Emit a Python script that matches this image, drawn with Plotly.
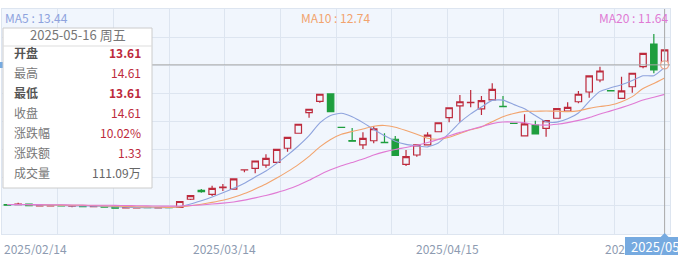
import plotly.graph_objects as go

# ---------------- data ----------------
dates = [
    "2025-02-14", "2025-02-17", "2025-02-18", "2025-02-19", "2025-02-20", "2025-02-21",
    "2025-02-24", "2025-02-25", "2025-02-26", "2025-02-27", "2025-02-28",
    "2025-03-03", "2025-03-04", "2025-03-05", "2025-03-06", "2025-03-07",
    "2025-03-10", "2025-03-11", "2025-03-12", "2025-03-13", "2025-03-14",
    "2025-03-17", "2025-03-18", "2025-03-19", "2025-03-20", "2025-03-21",
    "2025-03-24", "2025-03-25", "2025-03-26", "2025-03-27", "2025-03-28", "2025-03-31",
    "2025-04-01", "2025-04-02", "2025-04-03", "2025-04-07", "2025-04-08",
    "2025-04-09", "2025-04-10", "2025-04-11", "2025-04-14", "2025-04-15",
    "2025-04-16", "2025-04-17", "2025-04-18", "2025-04-21", "2025-04-22",
    "2025-04-23", "2025-04-24", "2025-04-25", "2025-04-28", "2025-04-29", "2025-04-30",
    "2025-05-06", "2025-05-07", "2025-05-08", "2025-05-09", "2025-05-12",
    "2025-05-13", "2025-05-14", "2025-05-15", "2025-05-16",
]
opens = [4.29, 4.29, 4.33, 4.21, 4.21, 4.22, 4.19, 4.16, 4.15, 4.14,
         4.15, 4.08, 4.08, 4.10, 4.08, 4.10, 4.11, 4.65, 5.24, 4.98,
         5.43, 5.33, 6.60, 6.71, 6.93, 7.11, 8.05, 9.05, 10.42, 11.18,
         11.67, 9.45, 8.56, 8.27, 8.55, 8.44, 8.65, 6.98, 7.60, 8.27,
         9.15, 10.09, 10.87, 11.09, 10.67, 11.27, 10.85, 9.71, 8.87, 9.60,
         9.38, 10.05, 10.53, 11.15, 11.80, 12.60, 11.89, 11.38, 12.15, 13.49,
         15.00, 13.61]
highs = [4.31, 4.42, 4.34, 4.23, 4.24, 4.23, 4.25, 4.17, 4.17, 4.15,
         4.16, 4.12, 4.11, 4.11, 4.10, 4.10, 4.50, 4.89, 5.33, 5.55,
         5.67, 6.01, 6.61, 7.21, 7.65, 7.99, 8.79, 9.66, 10.67, 11.66,
         11.68, 9.45, 9.40, 9.11, 9.53, 9.05, 8.87, 7.93, 8.28, 9.11,
         9.76, 10.76, 11.60, 11.93, 11.53, 12.38, 11.53, 9.72, 10.31, 9.89,
         9.90, 10.70, 11.11, 11.87, 12.88, 13.49, 11.89, 12.82, 13.06, 14.39,
         15.67, 14.61]
lows = [4.22, 4.27, 4.21, 4.20, 4.20, 4.20, 4.11, 4.14, 4.13, 4.12,
        4.04, 4.05, 4.06, 4.08, 4.07, 4.08, 4.11, 4.60, 5.09, 4.87,
        5.20, 5.31, 6.45, 6.38, 6.75, 7.09, 7.82, 9.03, 10.09, 11.09,
        10.48, 9.44, 8.50, 8.00, 8.38, 8.41, 7.58, 6.87, 7.49, 8.26,
        9.14, 9.78, 9.82, 10.78, 10.27, 11.26, 10.80, 9.69, 8.86, 8.99,
        8.82, 10.04, 10.52, 11.05, 11.42, 12.45, 11.87, 11.37, 11.75, 13.38,
        13.05, 13.61]
closes = [4.25, 4.32, 4.22, 4.22, 4.22, 4.21, 4.20, 4.15, 4.16, 4.13,
          4.05, 4.09, 4.09, 4.09, 4.09, 4.09, 4.50, 4.89, 5.16, 5.38,
          5.46, 6.01, 6.61, 7.20, 7.38, 7.98, 8.78, 9.65, 10.65, 11.65,
          10.49, 9.44, 8.52, 8.71, 9.35, 8.42, 7.58, 7.49, 8.27, 8.93,
          9.75, 10.75, 11.15, 11.11, 11.22, 11.98, 10.82, 9.70, 9.67, 9.00,
          9.89, 10.69, 10.78, 11.65, 12.87, 13.20, 11.88, 11.87, 13.05, 14.38,
          13.28, 14.61]
ma5 = [4.29, 4.29, 4.28, 4.26, 4.25, 4.24, 4.21, 4.20, 4.19, 4.17,
       4.14, 4.12, 4.10, 4.09, 4.08, 4.09, 4.17, 4.33, 4.55, 4.80,
       5.08, 5.38, 5.72, 6.13, 6.53, 7.04, 7.59, 8.20, 8.89, 9.74,
       10.24, 10.38, 10.15, 9.76, 9.30, 8.89, 8.52, 8.31, 8.22, 8.14,
       8.40, 9.04, 9.77, 10.34, 10.80, 11.24, 11.26, 10.97, 10.68, 10.23,
       9.82, 9.79, 10.01, 10.40, 11.18, 11.84, 12.08, 12.29, 12.57, 12.88,
       12.89, 13.44]
ma10 = [4.30, 4.30, 4.29, 4.28, 4.27, 4.26, 4.25, 4.24, 4.23, 4.21,
        4.19, 4.17, 4.15, 4.14, 4.13, 4.11, 4.14, 4.22, 4.32, 4.44,
        4.58, 4.78, 5.03, 5.34, 5.67, 6.06, 6.49, 6.96, 7.51, 8.14,
        8.64, 8.98, 9.17, 9.33, 9.52, 9.57, 9.45, 9.23, 8.99, 8.72,
        8.65, 8.78, 9.04, 9.28, 9.47, 9.82, 10.15, 10.37, 10.51, 10.52,
        10.53, 10.52, 10.49, 10.54, 10.71, 10.83, 10.93, 11.15, 11.49, 12.03,
        12.37, 12.74]
ma20 = [4.30, 4.30, 4.29, 4.29, 4.28, 4.28, 4.27, 4.26, 4.25, 4.25,
        4.24, 4.23, 4.22, 4.21, 4.20, 4.19, 4.20, 4.23, 4.27, 4.33,
        4.39, 4.47, 4.59, 4.74, 4.90, 5.09, 5.31, 5.59, 5.91, 6.29,
        6.61, 6.88, 7.10, 7.33, 7.60, 7.81, 7.97, 8.10, 8.25, 8.43,
        8.64, 8.88, 9.11, 9.30, 9.49, 9.69, 9.80, 9.80, 9.75, 9.62,
        9.59, 9.65, 9.76, 9.91, 10.09, 10.33, 10.54, 10.76, 11.00, 11.27,
        11.45, 11.64]
tick_labels = ["2025/02/14", "2025/03/14", "2025/04/15", "2025/05/16"]
last_volume_wan = 111.09
weekday_last = "周五"

# ---------------- style ----------------
W, H = 678, 255
PL, PR, PT, PB = 2, 670, 9, 234
BG = "#f1f6fd"
GRID = "#dde5f0"
RED = "#bd2a3c"
GREEN = "#1e9e3e"
PTR = "#76aae0"
C5, C10, C20 = "#8ea3dd", "#f2a46e", "#e07ad4"
FONT = "Noto Sans CJK SC, Noto Sans, sans-serif"

n = len(dates)
x = list(range(n))
y_min, y_max = 2.3333, 17.3333


def fx(p):
    return (p - PL) / (PR - PL)


def fy(p):
    return (PB - p) / (PB - PT)


fig = go.Figure()
fig.add_trace(go.Candlestick(
    x=x, open=opens, high=highs, low=lows, close=closes,
    increasing=dict(line=dict(color=RED, width=1.2), fillcolor=BG),
    decreasing=dict(line=dict(color=GREEN, width=1.2), fillcolor=GREEN),
    whiskerwidth=0, hoverinfo="skip", showlegend=False,
))
for vals, col in ((ma5, C5), (ma10, C10), (ma20, C20)):
    fig.add_trace(go.Scatter(x=x, y=vals, mode="lines",
                             line=dict(color=col, width=1.1, shape="spline", smoothing=0.6),
                             hoverinfo="skip", showlegend=False))

cross_y = opens[-1]
fig.add_trace(go.Scatter(x=[x[-1]], y=[cross_y], mode="markers",
                         marker=dict(size=8, color="white", line=dict(color="#f0a88e", width=1.3)),
                         hoverinfo="skip", showlegend=False))

# paper position of the last category
last_px = (x[-1] + 0.5) / n

shapes = []
# crosshair
shapes.append(dict(type="line", xref="x", yref="paper", x0=x[-1], x1=x[-1], y0=0, y1=1,
                   line=dict(color="#a8a8a8", width=1), layer="above"))
shapes.append(dict(type="line", xref="paper", yref="y", x0=0, x1=1, y0=cross_y, y1=cross_y,
                   line=dict(color="#a8a8a8", width=1), layer="above"))
# y pointer tip at left
shapes.append(dict(type="rect", xref="paper", yref="paper", x0=fx(0), x1=fx(3),
                   y0=fy(68), y1=fy(62), fillcolor=PTR, line=dict(width=0), layer="above"))
# x axis pointer small arrow
shapes.append(dict(type="path", xref="paper", yref="paper", xsizemode="pixel", ysizemode="pixel",
                   xanchor=last_px, yanchor=0, path="M -4,-3 L 4,-3 L 0,1 Z",
                   fillcolor=PTR, line=dict(width=0), layer="above"))
# tooltip box
shapes.append(dict(type="rect", xref="paper", yref="paper", x0=fx(3), x1=fx(152),
                   y0=fy(188), y1=fy(28), fillcolor="white",
                   line=dict(color="#cccccc", width=1), layer="above"))
shapes.append(dict(type="line", xref="paper", yref="paper", x0=fx(3), x1=fx(152),
                   y0=fy(46), y1=fy(46), line=dict(color="#dddddd", width=1), layer="above"))

ann = []
# x date labels
grid_step = n / 12
tick_pos = [-0.5, -0.5 + 4 * grid_step, -0.5 + 8 * grid_step, n - 0.5]
anchors = ["left", "center", "center", "right"]
for tp, lab, an in zip(tick_pos, tick_labels, anchors):
    ann.append(dict(x=tp, y=0, xref="x", yref="paper", text=lab, showarrow=False,
                    xanchor=an, yanchor="middle", yshift=-14.5,
                    font=dict(size=12, color="#8d9bb1", family=FONT)))
# axis pointer label (drawn after, so it covers the last date label)
ann.append(dict(x=last_px, y=0, xref="paper", yref="paper", text=dates[-1].replace("-", "/"),
                showarrow=False, xanchor="center", yanchor="top", yshift=-3,
                width=80, height=19, bgcolor=PTR, borderpad=0, borderwidth=0,
                font=dict(size=13, color="white", family=FONT)))
# MA labels
ann.append(dict(x=fx(3), y=fy(17), xref="paper", yref="paper", text=f"MA5 : {ma5[-1]:.2f}",
                showarrow=False, xanchor="left", yanchor="middle",
                font=dict(size=12, color=C5, family=FONT)))
ann.append(dict(x=fx(299), y=fy(17), xref="paper", yref="paper", text=f"MA10 : {ma10[-1]:.2f}",
                showarrow=False, xanchor="left", yanchor="middle",
                font=dict(size=12, color=C10, family=FONT)))
ann.append(dict(x=fx(670), y=fy(17), xref="paper", yref="paper", text=f"MA20 : {ma20[-1]:.2f}",
                showarrow=False, xanchor="right", yanchor="middle",
                font=dict(size=12, color=C20, family=FONT)))

# tooltip content
prev_close = closes[-2]
chg = closes[-1] - prev_close
pct = chg / prev_close * 100
ann.append(dict(x=fx(78), y=fy(35), xref="paper", yref="paper",
                text=f"{dates[-1]} {weekday_last}", showarrow=False,
                xanchor="center", yanchor="middle",
                font=dict(size=13, color="#777777", family=FONT)))
rows = [
    ("开盘", f"{opens[-1]:.2f}", True, RED),
    ("最高", f"{highs[-1]:.2f}", False, RED),
    ("最低", f"{lows[-1]:.2f}", True, RED),
    ("收盘", f"{closes[-1]:.2f}", False, RED),
    ("涨跌幅", f"{pct:.2f}%", False, RED),
    ("涨跌额", f"{chg:.2f}", False, RED),
    ("成交量", f"{last_volume_wan:.2f}万", False, "#666666"),
]
for k, (lab, val, bold, vcol) in enumerate(rows):
    yy = fy(52.5 + 20 * k)
    lt = f"<b>{lab}</b>" if bold else lab
    vt = f"<b>{val}</b>" if bold else val
    ann.append(dict(x=fx(12), y=yy, xref="paper", yref="paper", text=lt, showarrow=False,
                    xanchor="left", yanchor="middle",
                    font=dict(size=12, color="#555555" if bold else "#777777", family=FONT)))
    ann.append(dict(x=fx(143), y=yy, xref="paper", yref="paper", text=vt, showarrow=False,
                    xanchor="right", yanchor="middle",
                    font=dict(size=12, color=vcol, family=FONT)))

fig.update_layout(
    width=W, height=H,
    margin=dict(l=PL, r=W - PR, t=PT, b=H - PB, pad=0),
    paper_bgcolor="white", plot_bgcolor=BG,
    showlegend=False, boxgap=0.15, boxgroupgap=0.3,
    font=dict(family=FONT),
    xaxis=dict(range=[-0.5, n - 0.5], tick0=-0.5, dtick=grid_step, showgrid=True,
               gridcolor=GRID, gridwidth=1, showticklabels=False, ticks="",
               zeroline=False, showline=True, linecolor=GRID, mirror=True,
               rangeslider=dict(visible=False), fixedrange=True),
    yaxis=dict(range=[y_min, y_max], tick0=y_min, dtick=(y_max - y_min) / 8, showgrid=True,
               gridcolor=GRID, gridwidth=1, showticklabels=False, ticks="",
               zeroline=False, showline=True, linecolor=GRID, mirror=True, fixedrange=True),
    shapes=shapes, annotations=ann,
)

fig.write_html("out.html", config={"displayModeBar": False})
